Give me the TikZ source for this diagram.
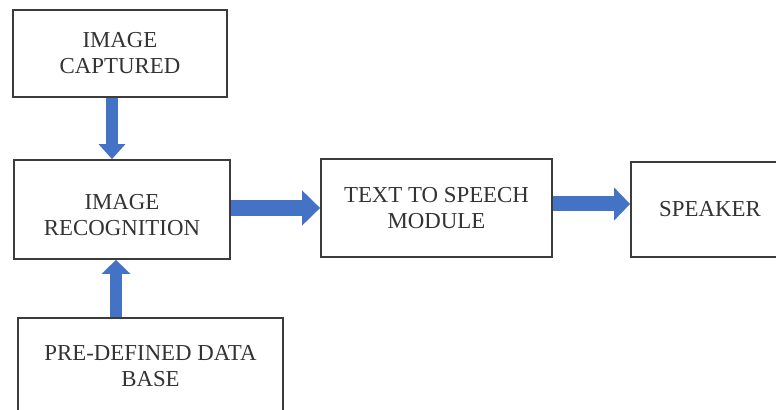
\documentclass[tikz,border=0pt]{standalone}
\usepackage{fontspec}
\setmainfont{Liberation Serif}
\usetikzlibrary{arrows.meta}
\definecolor{arrowblue}{HTML}{4472C4}
\definecolor{boxline}{HTML}{3C3C3C}
\definecolor{boxtext}{HTML}{333333}

\begin{document}
\begin{tikzpicture}[
    block/.style={draw=boxline, line width=1pt, fill=white, align=center,
        inner sep=0pt, text=boxtext, font=\fontsize{13}{14.8}\selectfont},
    flow/.style n args={3}{draw=arrowblue, line width=#1,
        -{Triangle[width=#2, length=#3]}}
]
    % Frame
    \path[use as bounding box, clip] (0,0) rectangle (15.52,-8.2);
    \fill[white] (0,0) rectangle (15.52,-8.2);

    % Blocks
    \node[block, minimum width=4.28cm, minimum height=1.74cm] (captured) at (2.40,-1.07) {IMAGE\\CAPTURED};
    \node[block, minimum width=4.32cm, minimum height=1.98cm, text height=29.2pt] (recog) at (2.44,-4.19) {IMAGE\\RECOGNITION};
    \node[block, minimum width=4.62cm, minimum height=1.96cm] (tts) at (8.73,-4.16) {TEXT TO SPEECH\\MODULE};
    \node[block, minimum width=3.16cm, minimum height=1.90cm] (speaker) at (14.20,-4.19) {SPEAKER};
    \node[block, minimum width=5.30cm, minimum height=1.92cm] (database) at (3.01,-7.32) {PRE-DEFINED DATA\\BASE};

    % Guide coordinates for the arrows
    \coordinate (downx) at (2.24,0);
    \coordinate (upx) at (2.32,0);
    \coordinate (rowa) at (0,-4.16);
    \coordinate (rowb) at (0,-4.08);

    % Arrows
    \draw[flow={0.24cm}{0.52cm}{0.30cm}] (captured.south -| downx) -- (recog.north -| downx);
    \draw[flow={0.24cm}{0.56cm}{0.28cm}] (database.north -| upx) -- (recog.south -| upx);
    \draw[flow={0.32cm}{0.68cm}{0.36cm}] (recog.east |- rowa) -- (tts.west |- rowa);
    \draw[flow={0.30cm}{0.64cm}{0.32cm}] (tts.east |- rowb) -- (speaker.west |- rowb);
\end{tikzpicture}
\end{document}
